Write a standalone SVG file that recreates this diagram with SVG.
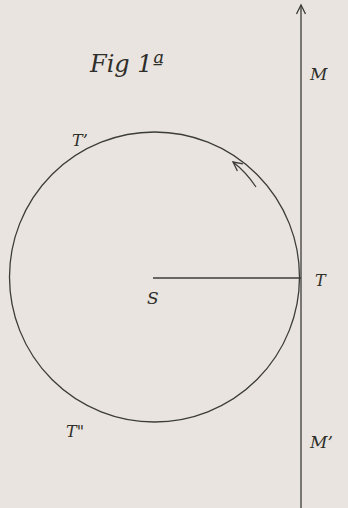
<svg xmlns="http://www.w3.org/2000/svg" width="348" height="508" viewBox="0 0 348 508">
<defs>
<style>
.ln{fill:none;stroke:#3c3c38;stroke-width:1.3}
.lb{font-family:"DejaVu Serif","Liberation Serif",serif;font-style:italic;fill:#2e2e2a}
</style>
<marker id="ah" markerWidth="12" markerHeight="12" refX="10" refY="6" orient="auto" markerUnits="userSpaceOnUse">
<path d="M1,1.5 L10,6 L1,10.5" fill="none" stroke="#3c3c38" stroke-width="1.3"/>
</marker>
</defs>
<rect width="348" height="508" fill="#e9e4df"/>
<g id="connectors">
<line class="ln" x1="301" y1="508" x2="301" y2="5" marker-end="url(#ah)"/>
<line class="ln" x1="153" y1="278" x2="301" y2="278"/>
<path class="ln" d="M256,187 Q246,172 233,162" marker-end="url(#ah)"/>
</g>
<g id="circle"><circle class="ln" cx="154.5" cy="277" r="145"/></g>
<g id="title"><text class="lb" x="90" y="72" font-size="24">Fig 1ª</text></g>
<g id="M"><text class="lb" x="310" y="80" font-size="17">M</text></g>
<g id="T1"><text class="lb" x="72" y="146" font-size="16">T’</text></g>
<g id="T"><text class="lb" x="315" y="286" font-size="16">T</text></g>
<g id="S"><text class="lb" x="147" y="304" font-size="17">S</text></g>
<g id="T2"><text class="lb" x="66" y="437" font-size="16">T"</text></g>
<g id="M2"><text class="lb" x="310" y="448" font-size="17">M’</text></g>
</svg>
